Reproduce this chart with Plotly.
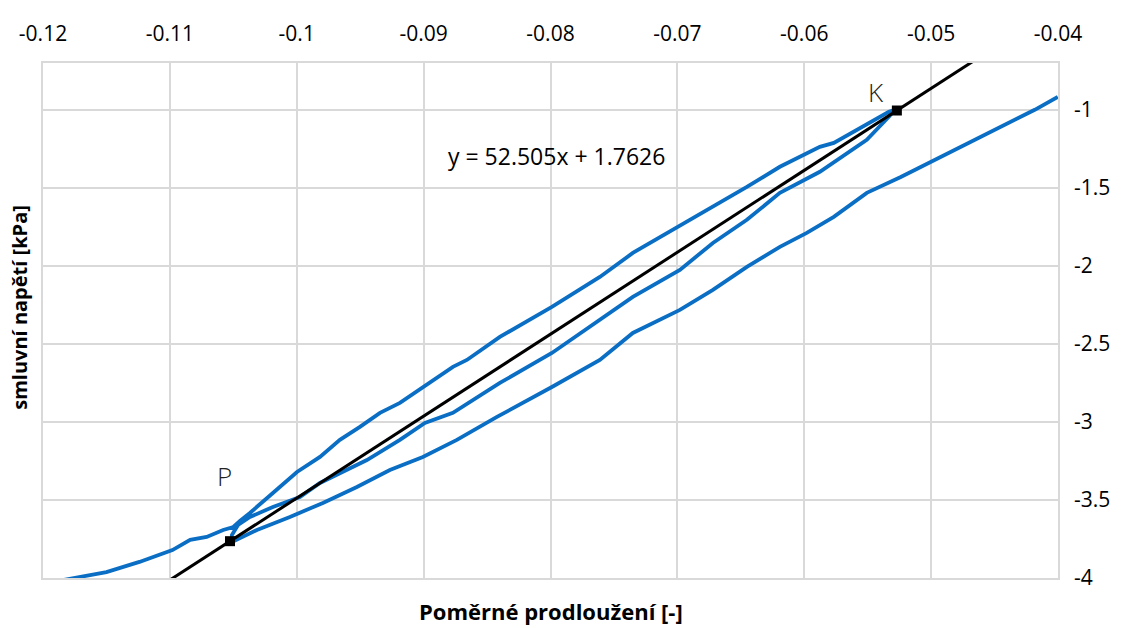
import plotly.graph_objects as go

# Strain [-] and nominal stress [kPa], one continuous record traced in order:
# initial loading, upper branch up to K, return branch down to P, reloading branch.
start_x = [-0.1184, -0.1150, -0.1124, -0.1098, -0.1084, -0.1071, -0.1058, -0.1050]
start_y = [-4.013, -3.962, -3.897, -3.821, -3.756, -3.737, -3.692, -3.673]

upper_x = [-0.10448, -0.10369, -0.10188, -0.09998, -0.09817, -0.0966, -0.09502, -0.09344,
           -0.09187, -0.0899, -0.08769, -0.08659, -0.08399, -0.07989, -0.07611, -0.07351,
           -0.06996, -0.0672, -0.06452, -0.06192, -0.06035, -0.05877, -0.05767, -0.05507,
           -0.05333, -0.05286]
upper_y = [-3.635, -3.583, -3.455, -3.321, -3.224, -3.115, -3.032, -2.942,
           -2.878, -2.769, -2.647, -2.603, -2.455, -2.263, -2.071, -1.917,
           -1.750, -1.622, -1.494, -1.365, -1.301, -1.237, -1.212, -1.096,
           -1.013, -1.000]

return_x = [-0.05333, -0.05507, -0.05767, -0.05877, -0.06192, -0.06452, -0.0672, -0.0698,
            -0.07351, -0.07611, -0.07989, -0.08399, -0.08769, -0.0899, -0.09187, -0.09447,
            -0.0966, -0.09817, -0.09975, -0.10188, -0.10369, -0.10463, -0.10511]
return_y = [-1.045, -1.192, -1.340, -1.397, -1.532, -1.705, -1.853, -2.026,
            -2.199, -2.346, -2.558, -2.750, -2.942, -3.006, -3.115, -3.244,
            -3.327, -3.391, -3.481, -3.545, -3.609, -3.660, -3.724]

reload_x = [-0.10511, -0.10314, -0.10054, -0.09794, -0.09526, -0.09266, -0.09006, -0.08738,
            -0.08422, -0.07989, -0.07611, -0.07351, -0.0698, -0.0672, -0.06452, -0.06192,
            -0.0598, -0.05767, -0.05507, -0.05239, -0.05002, -0.04711, -0.04443, -0.04183,
            -0.04002]
reload_y = [-3.769, -3.692, -3.609, -3.519, -3.417, -3.308, -3.224, -3.115,
            -2.968, -2.776, -2.603, -2.430, -2.282, -2.154, -2.006, -1.878,
            -1.789, -1.686, -1.532, -1.430, -1.333, -1.212, -1.109, -1.000,
            -0.917]

# Linear fit between the marked points P and K
slope, intercept = 52.505, 1.7626
fit_x = [-0.12, -0.04]
point_names = ["P", "K"]
point_x = [-0.10526, -0.0527]

x_ticks = [-0.12, -0.11, -0.10, -0.09, -0.08, -0.07, -0.06, -0.05, -0.04]
x_tick_text = ["-0.12", "-0.11", "-0.1", "-0.09", "-0.08", "-0.07", "-0.06", "-0.05", "-0.04"]
y_ticks = [-4, -3.5, -3, -2.5, -2, -1.5, -1]
y_tick_text = ["-4", "-3.5", "-3", "-2.5", "-2", "-1.5", "-1"]

FONT = "Open Sans"
BLUE = "#0A6EC4"

meas_x = start_x + upper_x + return_x + reload_x
meas_y = start_y + upper_y + return_y + reload_y

fig = go.Figure()
fig.add_trace(go.Scatter(x=meas_x, y=meas_y, mode="lines",
                         line=dict(color=BLUE, width=3.8), showlegend=False))
fig.add_trace(go.Scatter(x=fit_x, y=[slope * v + intercept for v in fit_x], mode="lines",
                         line=dict(color="black", width=3), showlegend=False))
fig.add_trace(go.Scatter(x=point_x, y=[slope * v + intercept for v in point_x], mode="markers",
                         marker=dict(symbol="square", size=10, color="black"),
                         showlegend=False))

label_pos = {"P": (-0.10566, -3.346), "K": (-0.05436, -0.8846)}
for name in point_names:
    lx, ly = label_pos[name]
    fig.add_annotation(x=lx, y=ly, text=name, showarrow=False,
                       font=dict(family=FONT, size=26, color="#222222", weight=300))

fig.add_annotation(x=-0.0795, y=-1.295, text="y = 52.505x + 1.7626", showarrow=False,
                   font=dict(family=FONT, size=23, color="black"))

fig.add_annotation(xref="paper", yref="paper", x=0.5, y=-0.098, yanchor="bottom",
                   text="<b>Poměrné prodloužení [-]</b>", showarrow=False,
                   font=dict(family=FONT, size=22, color="black"))
fig.add_annotation(xref="paper", yref="paper", x=-0.024, y=0.526, xanchor="center",
                   text="<b>smluvní napětí [kPa]</b>", textangle=-90, showarrow=False,
                   font=dict(family=FONT, size=20, color="black"))

fig.update_layout(
    width=1126, height=628,
    margin=dict(l=43, r=68, t=63, b=50),
    paper_bgcolor="white", plot_bgcolor="white",
    font=dict(family=FONT, size=21, color="black"),
    xaxis=dict(side="top", range=[-0.12, -0.04], tickvals=x_ticks, ticktext=x_tick_text,
               showgrid=True, gridcolor="#D9D9D9", gridwidth=1.5, zeroline=False,
               showline=True, linecolor="#D9D9D9", linewidth=1.5, mirror=True,
               ticks="", ticklabelstandoff=12),
    yaxis=dict(side="right", range=[-4, -0.7], tickvals=y_ticks, ticktext=y_tick_text,
               showgrid=True, gridcolor="#D9D9D9", gridwidth=1.5, zeroline=False,
               showline=True, linecolor="#D9D9D9", linewidth=1.5, mirror=True,
               ticks="", ticklabelstandoff=10),
)

fig.write_html("out.html")
